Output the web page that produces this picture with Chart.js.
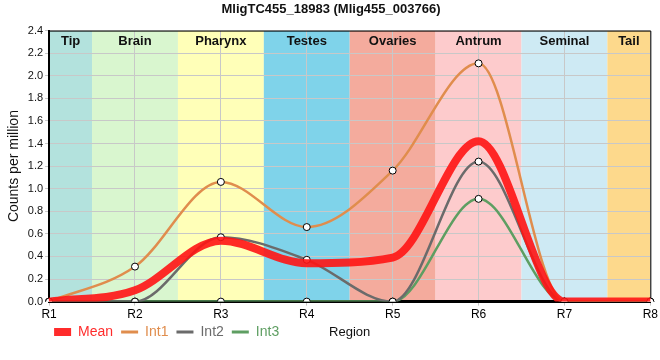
<!DOCTYPE html>
<html>
<head>
<meta charset="utf-8">
<script src="https://cdn.jsdelivr.net/npm/chart.js@4.4.1/dist/chart.umd.min.js"></script>
<style>
  html, body { margin: 0; padding: 0; background: #fff; }
  #wrap { width: 660px; height: 360px; }
</style>
</head>
<body>
<div id="wrap"><canvas id="chart"></canvas></div>
<script>
// Data
const regions = ["R1", "R2", "R3", "R4", "R5", "R6", "R7", "R8"];
const bandNames = ["Tip", "Brain", "Pharynx", "Testes", "Ovaries", "Antrum", "Seminal", "Tail"];
const bandColors = ["#b3e2dd", "#d9f6cf", "#ffffb8", "#7fd3ea", "#f4ab9d", "#fdcbcc", "#ceeaf4", "#fdd98c"];
const meanVals = [0, 0.10, 0.54, 0.34, 0.39, 1.42, 0, 0];
const int1Vals = [0, 0.31, 1.06, 0.66, 1.16, 2.11, 0, 0];
const int2Vals = [0, 0, 0.57, 0.37, 0, 1.24, 0, 0];
const int3Vals = [0, 0, 0, 0, 0, 0.91, 0, 0];
const yTicks = [0, 0.2, 0.4, 0.6, 0.8, 1.0, 1.2, 1.4, 1.6, 1.8, 2.0, 2.2, 2.4];

const FONT = "'Liberation Sans', Arial, sans-serif";

// background bands + band names + frame
const bandsPlugin = {
    id: "bands",
    afterLayout(chart) {
        // legend shares its row with the axis title, a bit higher than chart.js puts it
        const lg = chart.legend;
        lg.top -= 7;
        lg.bottom -= 7;
        lg.left -= 3;
        lg.right -= 3;
    },
    beforeDraw(chart) {
        const { ctx, chartArea: a, scales: { x } } = chart;
        ctx.save();
        bandNames.forEach((name, i) => {
            let x0 = Math.max(a.left, x.getPixelForValue(i - 0.5));
            let x1 = Math.min(a.right, x.getPixelForValue(i + 0.5));
            ctx.fillStyle = bandColors[i];
            ctx.fillRect(x0, a.top, x1 - x0, a.bottom - a.top);
        });
        ctx.restore();
    },
    beforeDatasetsDraw(chart) {
        const { ctx, chartArea: a, scales: { x } } = chart;
        ctx.save();
        ctx.font = "bold 13px " + FONT;
        ctx.fillStyle = "#111";
        ctx.textAlign = "center";
        ctx.textBaseline = "middle";
        bandNames.forEach((name, i) => {
            let x0 = Math.max(a.left, x.getPixelForValue(i - 0.5));
            let x1 = Math.min(a.right, x.getPixelForValue(i + 0.5));
            ctx.fillText(name, (x0 + x1) / 2, a.top + 11);
        });
        // top and right frame
        ctx.strokeStyle = "#000";
        ctx.lineWidth = 1;
        ctx.beginPath();
        ctx.moveTo(a.left, a.top + 0.5);
        ctx.lineTo(a.right + 0.5, a.top + 0.5);
        ctx.lineTo(a.right + 0.5, a.bottom);
        ctx.stroke();
        ctx.restore();
    },
    afterDraw(chart) {
        // x axis title on the legend row
        const { ctx, chartArea: a, legend } = chart;
        ctx.save();
        ctx.font = "13px " + FONT;
        ctx.fillStyle = "#111";
        ctx.textAlign = "center";
        ctx.textBaseline = "middle";
        const hb = legend.legendHitBoxes[0];
        const y = hb ? hb.top + hb.height / 2 : 331;
        ctx.fillText("Region", (a.left + a.right) / 2, y);
        ctx.restore();
    }
};

const colors = {
    mean: "rgba(255, 20, 20, 0.9)",
    int1: "#e08d4d",
    int2: "#6b6b6b",
    int3: "#5e9e62"
};

const intStyle = {
    borderWidth: 2.5,
    pointRadius: 3.5,
    pointHoverRadius: 4,
    pointBackgroundColor: "#fff",
    pointBorderColor: "#000",
    pointBorderWidth: 1,
    cubicInterpolationMode: "monotone",
    fill: false
};

new Chart(document.getElementById("chart"), {
    type: "line",
    data: {
        labels: regions,
        datasets: [
            { label: "Int3", data: int3Vals, borderColor: colors.int3, backgroundColor: colors.int3, order: 4, ...intStyle },
            { label: "Int2", data: int2Vals, borderColor: colors.int2, backgroundColor: colors.int2, order: 3, ...intStyle },
            { label: "Int1", data: int1Vals, borderColor: colors.int1, backgroundColor: colors.int1, order: 2, ...intStyle },
            {
                label: "Mean", data: meanVals, borderColor: colors.mean, backgroundColor: colors.mean,
                borderWidth: 8, pointRadius: 0, cubicInterpolationMode: "monotone", fill: false, order: 1
            }
        ]
    },
    options: {
        responsive: true,
        maintainAspectRatio: false,
        animation: false,
        layout: { padding: { left: 6, right: 4, top: 0, bottom: 4 } },
        plugins: {
            title: {
                display: true,
                text: "MligTC455_18983 (Mlig455_003766)",
                color: "#111",
                font: { family: FONT, size: 13, weight: "bold" },
                padding: { top: 2, bottom: 13 }
            },
            legend: {
                position: "bottom",
                align: "start",
                fullSize: false,
                labels: {
                    font: { family: FONT, size: 14 },
                    usePointStyle: true,
                    boxHeight: 8,
                    pointStyleWidth: 17,
                    padding: 8,
                    generateLabels(chart) {
                        const order = [3, 2, 1, 0];
                        return order.map(i => {
                            const ds = chart.data.datasets[i];
                            return {
                                text: ds.label,
                                datasetIndex: i,
                                pointStyle: "line",
                                strokeStyle: ds.borderColor,
                                fillStyle: ds.borderColor,
                                lineWidth: ds.label === "Mean" ? 8 : 3,
                                fontColor: ds.borderColor,
                                hidden: false
                            };
                        });
                    }
                }
            },
            tooltip: { enabled: false }
        },
        scales: {
            x: {
                grid: { color: "#c8c8c8", lineWidth: 1, tickLength: 4 },
                border: { color: "#000", width: 3 },
                ticks: { color: "#000", font: { family: FONT, size: 12 }, maxRotation: 0, autoSkip: false, padding: 2 }
            },
            y: {
                min: 0,
                max: 2.4,
                afterBuildTicks(scale) {
                    scale.ticks = yTicks.map(v => ({ value: v }));
                },
                grid: { color: "#c8c8c8", lineWidth: 1, tickLength: 4 },
                border: { color: "#000", width: 2 },
                ticks: {
                    color: "#111",
                    font: { family: FONT, size: 11 },
                    padding: 2,
                    callback: v => Number(v).toFixed(1)
                },
                title: {
                    display: true,
                    text: "Counts per million",
                    color: "#111",
                    font: { family: FONT, size: 14 },
                    padding: { top: 0, bottom: 3 }
                }
            }
        }
    },
    plugins: [bandsPlugin]
});
</script>
</body>
</html>
